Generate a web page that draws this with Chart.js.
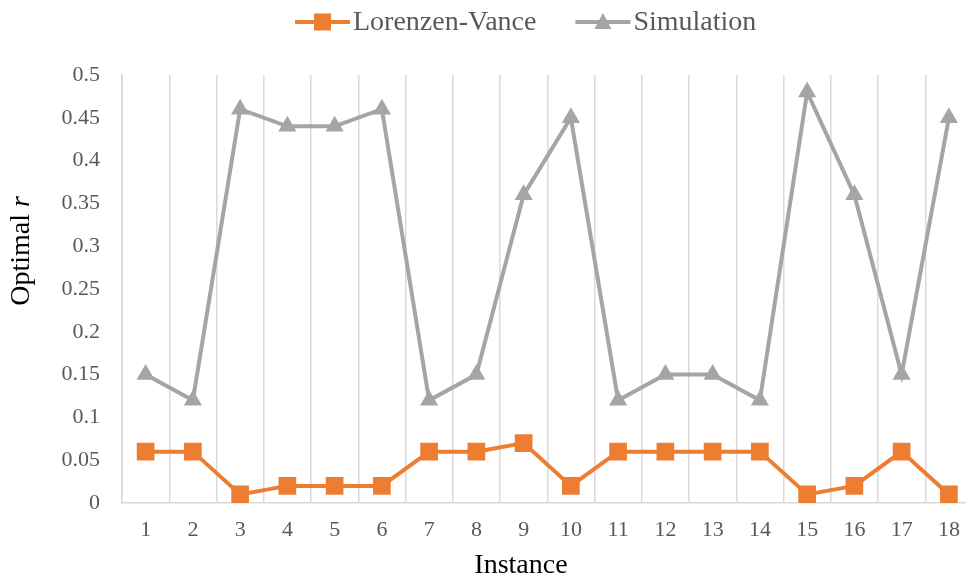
<!DOCTYPE html>
<html>
<head>
<meta charset="utf-8">
<script src="https://cdn.jsdelivr.net/npm/chart.js@4/dist/chart.umd.min.js"></script>
<style>
  html, body { margin: 0; padding: 0; background: #fff; overflow: hidden; }
  #wrap { width: 966px; height: 583px; overflow: hidden; }
</style>
</head>
<body>
<div id="wrap"><canvas id="chart" width="985" height="583"></canvas></div>
<script>
// data
const instances = ['1', '2', '3', '4', '5', '6', '7', '8', '9', '10', '11', '12', '13', '14', '15', '16', '17', '18'];
const lorenzenVance = [0.06, 0.06, 0.01, 0.02, 0.02, 0.02, 0.06, 0.06, 0.07, 0.02, 0.06, 0.06, 0.06, 0.06, 0.01, 0.02, 0.06, 0.01];
const simulation = [0.15, 0.12, 0.46, 0.44, 0.44, 0.46, 0.12, 0.15, 0.36, 0.45, 0.12, 0.15, 0.15, 0.12, 0.48, 0.36, 0.15, 0.45];

const SERIF = '"Liberation Serif", "Times New Roman", serif';
const ORANGE = '#ED7D31';
const GRAY = '#A5A5A5';
const GRID = '#D9D9D9';
const TICK = '#595959';

// legend + axis titles drawn by hand (line-with-marker legend, italic r)
const decorations = {
    id: 'decorations',
    afterDraw(chart) {
        const ctx = chart.ctx;
        ctx.save();

        // legend
        ctx.font = '28px ' + SERIF;
        ctx.textBaseline = 'middle';
        ctx.textAlign = 'left';
        const ly = 22;
        let x = 295;
        chart.data.datasets.forEach(ds => {
            const lineLen = 55;
            ctx.strokeStyle = ds.borderColor;
            ctx.lineWidth = 4;
            ctx.beginPath();
            ctx.moveTo(x, ly);
            ctx.lineTo(x + lineLen, ly);
            ctx.stroke();
            ctx.fillStyle = ds.backgroundColor;
            const cx = x + lineLen / 2;
            if (ds.pointStyle === 'rect') {
                ctx.fillRect(cx - 8.5, ly - 8.5, 17, 17);
            } else {
                ctx.beginPath();
                ctx.moveTo(cx, ly - 9);
                ctx.lineTo(cx + 8.5, ly + 7);
                ctx.lineTo(cx - 8.5, ly + 7);
                ctx.closePath();
                ctx.fill();
            }
            ctx.fillStyle = TICK;
            ctx.fillText(ds.label, x + lineLen + 3, ly + 1);
            x += lineLen + 3 + ctx.measureText(ds.label).width + 39;
        });

        // x title
        ctx.fillStyle = '#000';
        ctx.font = '28px ' + SERIF;
        ctx.textAlign = 'center';
        ctx.fillText('Instance', 521, 566);

        // y title: "Optimal " + italic "r"
        ctx.translate(22, 251);
        ctx.rotate(-Math.PI / 2);
        ctx.font = '28px ' + SERIF;
        const w1 = ctx.measureText('Optimal ').width;
        ctx.font = 'italic 28px ' + SERIF;
        const w2 = ctx.measureText('r').width;
        const start = -(w1 + w2) / 2;
        ctx.textAlign = 'left';
        ctx.font = '28px ' + SERIF;
        ctx.fillText('Optimal ', start, 0);
        ctx.font = 'italic 28px ' + SERIF;
        ctx.fillText('r', start + w1, 0);

        ctx.restore();
    }
};

const ctx = document.getElementById('chart').getContext('2d');
new Chart(ctx, {
    type: 'line',
    data: {
        labels: instances,
        datasets: [{
            label: 'Lorenzen-Vance',
            data: lorenzenVance,
            borderColor: ORANGE,
            backgroundColor: ORANGE,
            borderWidth: 4,
            pointStyle: 'rect',
            pointRadius: 12.5,
            pointHoverRadius: 12.5,
            pointBorderWidth: 0,
            tension: 0
        }, {
            label: 'Simulation',
            data: simulation,
            borderColor: GRAY,
            backgroundColor: GRAY,
            borderWidth: 4,
            pointStyle: 'triangle',
            pointRadius: 10.5,
            pointHoverRadius: 10.5,
            pointBorderWidth: 0,
            tension: 0
        }]
    },
    options: {
        responsive: false,
        animation: false,
        layout: { padding: { top: 75, bottom: 0, left: 0, right: 0 } },
        plugins: {
            legend: { display: false },
            tooltip: { enabled: false }
        },
        scales: {
            x: {
                offset: true,
                grid: { offset: true, color: GRID, lineWidth: 1.5, drawTicks: false },
                border: { color: GRID, width: 1.5 },
                ticks: { color: TICK, font: { family: SERIF, size: 22 }, padding: 14, maxRotation: 0, autoSkip: false },
                afterFit(scale) { scale.height = 80; }
            },
            y: {
                min: 0,
                max: 0.5,
                grid: { display: false, drawTicks: false },
                border: { display: true, color: GRID, width: 1.5 },
                ticks: {
                    stepSize: 0.05,
                    color: TICK,
                    font: { family: SERIF, size: 22 },
                    padding: 22,
                    callback: v => String(Number(v.toFixed(2)))
                },
                afterFit(scale) { scale.width = 122; }
            }
        }
    },
    plugins: [decorations]
});
</script>
</body>
</html>
